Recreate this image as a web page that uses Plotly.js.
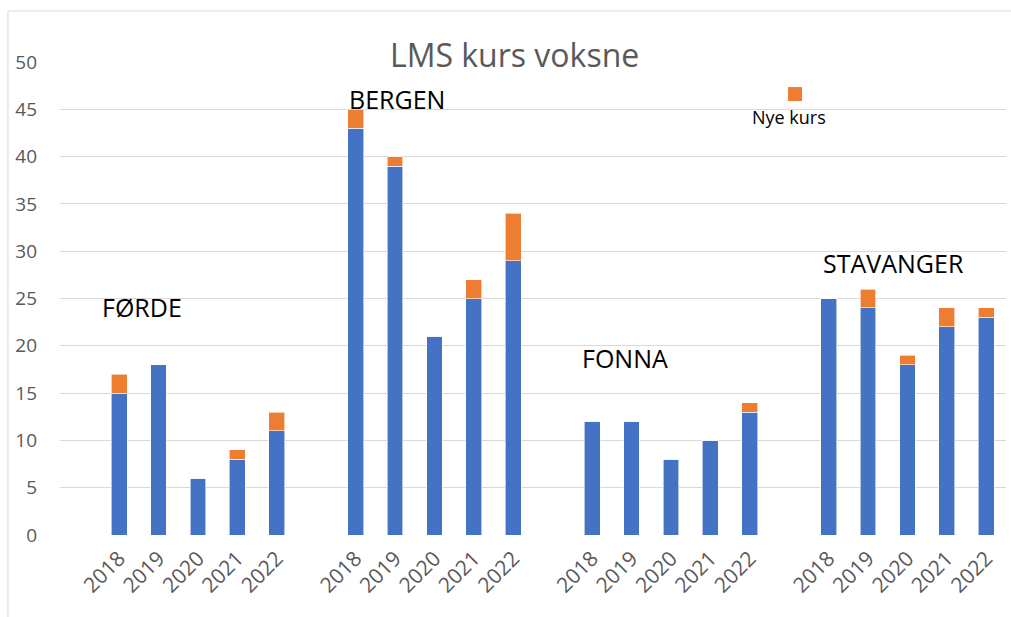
<!DOCTYPE html>
<html>
<head>
<meta charset="utf-8">
<script src="https://cdn.plot.ly/plotly-3.0.1.min.js"></script>
<style>html,body{margin:0;padding:0;background:#fff;}#chart{width:1011px;height:617px;}</style>
</head>
<body>
<div id="chart"></div>
<script>
// ---- data ----
const groups = ["FØRDE", "BERGEN", "FONNA", "STAVANGER"];
const years = ["2018", "2019", "2020", "2021", "2022"];
const fordeBase = [15, 18, 6, 8, 11];
const fordeNew = [2, 0, 0, 1, 2];
const bergenBase = [43, 39, 21, 25, 29];
const bergenNew = [2, 1, 0, 2, 5];
const fonnaBase = [12, 12, 8, 10, 13];
const fonnaNew = [0, 0, 0, 0, 1];
const stavangerBase = [25, 24, 18, 22, 23];
const stavangerNew = [0, 2, 1, 2, 1];
const titleText = "LMS kurs voksne";
const legendText = "Nye kurs";

// ---- build positions: each group of 5 years followed by an empty slot, one leading empty slot ----
const baseSets = [fordeBase, bergenBase, fonnaBase, stavangerBase];
const newSets = [fordeNew, bergenNew, fonnaNew, stavangerNew];
const xs = [], base = [], extra = [], tickText = [];
baseSets.forEach((b, g) => {
  years.forEach((yr, i) => {
    xs.push(1 + g * (years.length + 1) + i);
    base.push(b[i]);
    extra.push(newSets[g][i]);
    tickText.push(yr);
  });
});

const grey = "#595959";
const traces = [
  {type: "bar", x: xs, y: base, name: "Kurs", marker: {color: "#4472C4", line: {color: "#ffffff", width: 0.6}}, showlegend: false, hoverinfo: "y"},
  {type: "bar", x: xs, y: extra, name: legendText, marker: {color: "#ED7D31", line: {color: "#ffffff", width: 0.6}}, showlegend: false, hoverinfo: "y"}
];

// group label placement (layout only)
const groupLabelPos = [
  {x: 0.52, y: 24.1},
  {x: 6.79, y: 46.1},
  {x: 12.70, y: 18.7},
  {x: 18.81, y: 28.75}
];
const annotations = groups.map((g, i) => ({
  text: g, x: groupLabelPos[i].x, y: groupLabelPos[i].y, xref: "x", yref: "y",
  xanchor: "left", yanchor: "middle", showarrow: false,
  font: {family: "Open Sans", size: 25, color: "#000000"}
}));
annotations.push({
  text: legendText, x: 0.7706, y: 0.8837, xref: "paper", yref: "paper",
  xanchor: "center", yanchor: "middle", showarrow: false,
  font: {family: "Open Sans", size: 18, color: "#000000"}
});

const layout = {
  width: 1011, height: 617,
  margin: {l: 60, r: 5, t: 62, b: 82, autoexpand: false},
  paper_bgcolor: "#ffffff", plot_bgcolor: "#ffffff",
  barmode: "stack", bargap: 0.6,
  showlegend: false,
  title: {text: titleText, x: 0.509, xref: "container", y: 0.909, yref: "container", xanchor: "center", yanchor: "middle",
          font: {family: "Open Sans", size: 32, color: grey}},
  xaxis: {
    range: [-0.5, 23.5], tickmode: "array", tickvals: xs, ticktext: tickText, tickangle: -45,
    showgrid: false, zeroline: false, showline: false, ticks: "", ticklabelstandoff: 6,
    tickfont: {family: "Open Sans", size: 21, color: grey}, automargin: false
  },
  yaxis: {
    range: [0, 50], dtick: 5, tick0: 0, showgrid: true, gridcolor: "#D9D9D9", gridwidth: 1,
    zeroline: false, showline: false, ticks: "", ticklabelstandoff: 22,
    tickfont: {family: "Open Sans", size: 19, color: grey}, automargin: false
  },
  annotations: annotations,
  shapes: [
    {type: "rect", xref: "paper", yref: "paper", x0: -0.055, x1: 1.03, y0: -0.25, y1: 1.108,
     line: {color: "#D9D9D9", width: 1}, fillcolor: "rgba(0,0,0,0)", layer: "below"},
    {type: "rect", xref: "paper", yref: "paper", x0: 0.7696, x1: 0.7844, y0: 0.9175, y1: 0.947,
     line: {width: 0}, fillcolor: "#ED7D31"}
  ]
};

Plotly.newPlot("chart", traces, layout, {staticPlot: true, displayModeBar: false});
</script>
</body>
</html>
